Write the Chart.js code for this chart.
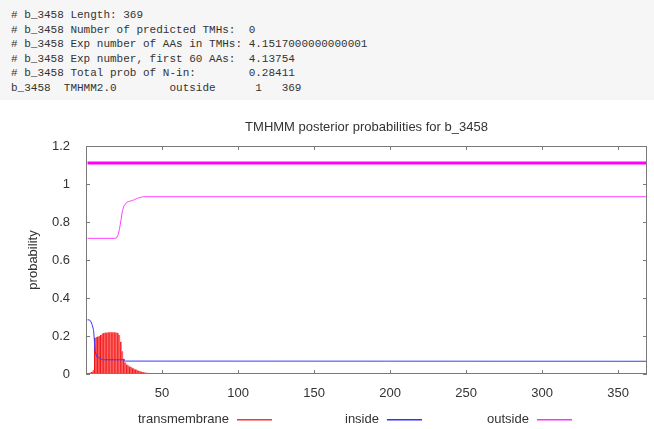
<!DOCTYPE html>
<html>
<head>
<meta charset="utf-8">
<script src="https://cdn.jsdelivr.net/npm/chart.js@4.4.0/dist/chart.umd.min.js"></script>
<style>
html,body{margin:0;padding:0;background:#fff;width:654px;height:429px;overflow:hidden}
#info{position:absolute;left:0;top:0;width:654px;height:100px;background:#f6f6f6;margin:0;padding:8px 0 0 11px;box-sizing:border-box;
  font:11px "Liberation Mono",monospace;line-height:14.5px;color:#333;white-space:pre}
#plot{position:absolute;left:0;top:0}
</style>
</head>
<body>
<pre id="info"># b_3458 Length: 369
# b_3458 Number of predicted TMHs:  0
# b_3458 Exp number of AAs in TMHs: 4.1517000000000001
# b_3458 Exp number, first 60 AAs:  4.13754
# b_3458 Total prob of N-in:        0.28411
b_3458  TMHMM2.0        outside      1   369</pre>
<canvas id="plot" width="654" height="429"></canvas>
<script>
// DATA
const seqLength=369;
const titleText='TMHMM posterior probabilities for b_3458';
const yLabel='probability';
const legendNames=['transmembrane','inside','outside'];
const legendColors=['#ff3030','#3030ff','#ff30ff'];
const xTicks=[50,100,150,200,250,300,350];
const yTicks=[0,0.2,0.4,0.6,0.8,1,1.2];

// transmembrane impulses
const tmPos=[1,2,3,4,5,6,7,8,9,10,11,12,13,14,15,16,17,18,19,20,21,22,23,24,25,26,27,28,29,30,31,32,33,34,35,36,37,38,39,40,41,42,43,44,45,
  295,297,299,301,303,305,307,309,311,313,315,317];
const tmVal=[0.003,0.005,0.008,0.012,0.02,0.19,0.195,0.197,0.2,0.205,0.213,0.217,0.218,0.219,0.22,0.22,0.22,0.22,0.22,0.219,0.216,0.205,0.17,0.12,0.08,0.06,0.05,0.045,0.04,0.035,0.03,0.027,0.024,0.02,0.017,0.014,0.012,0.01,0.008,0.007,0.006,0.005,0.004,0.003,0.002,
  0.003,0.004,0.004,0.005,0.005,0.005,0.005,0.004,0.004,0.004,0.003,0.003];

// inside probability
const inPos=[1,2,3,4,5,6,7,8,9,10,11,25,26,369];
const inVal=[0.285,0.285,0.28,0.26,0.23,0.12,0.092,0.088,0.083,0.078,0.075,0.075,0.068,0.067];

// outside probability
const outPos=[1,19,20,21,22,23,24,25,26,27,28,29,30,31,32,33,34,35,36,37,38,369];
const outVal=[0.714,0.714,0.716,0.73,0.76,0.81,0.86,0.885,0.895,0.905,0.908,0.91,0.912,0.915,0.918,0.922,0.925,0.928,0.93,0.932,0.933,0.933];

// predicted topology line (outside 1..369)
const topoPos=[1,369];
const topoVal=[1.11,1.11];

const pts=(xs,ys)=>xs.map((x,i)=>({x,y:ys[i]}));

Chart.defaults.font.family='"Liberation Sans",Arial,sans-serif';
Chart.defaults.font.size=13;
Chart.defaults.color='#333';

// frame, inward ticks, title, axis label, legend (gnuplot look)
const gnuplotFrame={
  id:'gnuplotFrame',
  afterDatasetsDraw(c){
    const {ctx,chartArea:a,scales:{x,y}}=c;
    ctx.save();
    ctx.strokeStyle='#7a7a7a';ctx.lineWidth=1;
    ctx.strokeRect(Math.round(a.left)+0.5,Math.round(a.top)+0.5,Math.round(a.width)-1,Math.round(a.height)-1);
    ctx.beginPath();
    xTicks.forEach(v=>{
      const p=Math.round(x.getPixelForValue(v))+0.5;
      ctx.moveTo(p,a.bottom);ctx.lineTo(p,a.bottom-4);
      ctx.moveTo(p,a.top);ctx.lineTo(p,a.top+4);
    });
    yTicks.forEach(v=>{
      const p=Math.round(y.getPixelForValue(v))+0.5;
      ctx.moveTo(a.left,p);ctx.lineTo(a.left+4,p);
      ctx.moveTo(a.right,p);ctx.lineTo(a.right-4,p);
    });
    ctx.stroke();
    ctx.fillStyle='#333';
    ctx.font='13px "Liberation Sans",Arial,sans-serif';
    ctx.textAlign='center';ctx.textBaseline='middle';
    ctx.fillText(titleText,(a.left+a.right)/2,127);
    ctx.save();
    ctx.translate(33,(a.top+a.bottom)/2);
    ctx.rotate(-Math.PI/2);
    ctx.fillText(yLabel,0,0);
    ctx.restore();
    // legend
    const lx=[138,345,487];
    ctx.textAlign='left';
    legendNames.forEach((n,i)=>{
      ctx.fillStyle='#333';
      ctx.fillText(n,lx[i],419);
      const s=Math.round(lx[i]+ctx.measureText(n).width+8);
      ctx.fillStyle=legendColors[i];
      ctx.fillRect(s,419,35,1.5);
    });
    ctx.restore();
  }
};

new Chart(document.getElementById('plot'),{
  type:'line',
  data:{datasets:[
    {type:'line',label:'topology',data:pts(topoPos,topoVal),borderColor:'#ff00ff',borderWidth:3,pointRadius:0},
    {type:'line',label:legendNames[2],data:pts(outPos,outVal),borderColor:'#ff40ff',borderWidth:1,pointRadius:0},
    {type:'line',label:legendNames[1],data:pts(inPos,inVal),borderColor:'#3a3aff',borderWidth:1,pointRadius:0},
    {type:'bar',label:legendNames[0],data:pts(tmPos,tmVal),backgroundColor:'#ff7070',borderColor:'#ee0000',
      borderWidth:{left:1,right:0,top:0,bottom:0},borderSkipped:false,barThickness:1.6}
  ]},
  options:{
    responsive:false,animation:false,devicePixelRatio:1,
    layout:{padding:{left:0,right:7,top:146,bottom:25}},
    plugins:{legend:{display:false},tooltip:{enabled:false},title:{display:false}},
    scales:{
      x:{type:'linear',min:0,max:seqLength,offset:false,
        afterFit:s=>{s.height=30},
        afterBuildTicks:s=>{s.ticks=xTicks.map(v=>({value:v}))},
        grid:{display:false},border:{display:false},
        ticks:{padding:4,maxRotation:0,autoSkip:false}},
      y:{min:0,max:1.2,
        afterFit:s=>{s.width=86},
        afterBuildTicks:s=>{s.ticks=yTicks.map(v=>({value:v}))},
        grid:{display:false},border:{display:false},
        ticks:{padding:8,callback:v=>String(+v.toFixed(1))}}
    }
  },
  plugins:[gnuplotFrame]
});
</script>
</body>
</html>
